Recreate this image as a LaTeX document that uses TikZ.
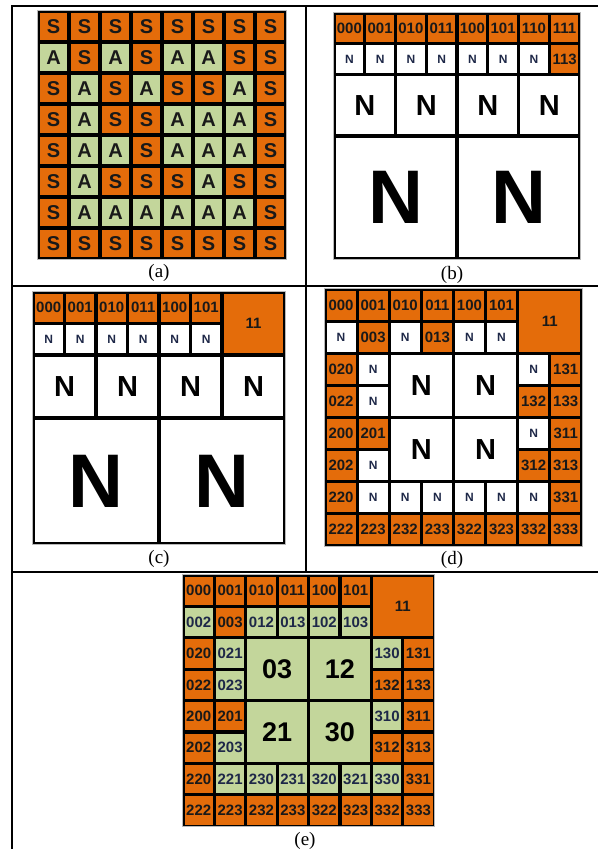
\documentclass[tikz,border=0pt]{standalone}
\usepackage{fontspec}
\setmainfont{Liberation Serif}
\newfontfamily\cellfont{Liberation Sans}
\definecolor{cellorange}{RGB}{228,108,10}
\definecolor{cellgreen}{RGB}{195,214,155}
\definecolor{cellink}{RGB}{30,40,72}

\tikzset{
  rule/.style={line width=2pt,black},
  frame/.style={draw=gray!55,line width=1.8pt},
  cell/.style={draw=black,line width=1.6pt,inner sep=0pt,text=black!90},
  letter/.style={font=\cellfont\bfseries\fontsize{20}{20}\selectfont},
  lbl/.style={font=\cellfont\bfseries\fontsize{15}{15}\selectfont},
  nsm/.style={font=\cellfont\bfseries\fontsize{12}{12}\selectfont},
  nmd/.style={font=\cellfont\bfseries\fontsize{29}{29}\selectfont,text=black},
  nbg/.style={font=\cellfont\bfseries\fontsize{76}{76}\selectfont,text=black},
  quad/.style={font=\cellfont\bfseries\fontsize{27}{27}\selectfont,text=black},
  S/.style={fill=cellorange,letter},
  A/.style={fill=cellgreen,letter},
  slab/.style={fill=cellorange,lbl},
  alab/.style={fill=cellgreen,lbl,text=cellink},
  nlab/.style={fill=white,nsm,text=cellink},
  caption/.style={inner sep=0pt,font=\fontsize{19}{19}\selectfont}
}

% one square of the grid: name, column, row, span, style, text
\newcommand{\cell}[6]{%
  \node[cell,#5,minimum size=#4*\cellsz pt-1.6pt] (#1)
    at ({#2-1+#4/2},{#3-1+#4/2}) {#6};}

\begin{document}
\begin{tikzpicture}[x=1pt,y=-1pt]
  \useasboundingbox (0,0) rectangle (598,849);

  % table rules
  \draw[rule] (12,849) -- (12,6) -- (598,6);
  \draw[rule] (12,286) -- (598,286);
  \draw[rule] (12,572) -- (598,572);
  \draw[rule] (306,6) -- (306,572);

  % (a)
  \def\cellsz{31}
  \begin{scope}[shift={(38,11)},x=\cellsz pt,y=-\cellsz pt]
    \draw[frame] (0,0) rectangle (8,8);
    \foreach \row [count=\r] in {{S,S,S,S,S,S,S,S},{A,S,A,S,A,A,S,S},
        {S,A,S,A,S,S,A,S},{S,A,S,S,A,A,A,S},{S,A,A,S,A,A,A,S},
        {S,A,S,S,S,A,S,S},{S,A,A,A,A,A,A,S},{S,S,S,S,S,S,S,S}}
      \foreach \t [count=\c] in \row
        \cell{a-\c-\r}{\c}{\r}{1}{\t}{\t};
  \end{scope}
  \node[caption] (cap-a) at (159,273) {(a)};

  % (b)
  \def\cellsz{30.75}
  \begin{scope}[shift={(334,13)},x=\cellsz pt,y=-\cellsz pt]
    \draw[frame] (0,0) rectangle (8,8);
    \foreach \t [count=\c] in {000,001,010,011,100,101,110,111}
      \cell{b-\c-1}{\c}{1}{1}{slab}{\t};
    \foreach \c in {1,...,7}
      \cell{b-\c-2}{\c}{2}{1}{nlab}{N};
    \cell{b-8-2}{8}{2}{1}{slab}{113};
    \foreach \c in {1,3,5,7}
      \cell{b-\c-3}{\c}{3}{2}{nlab,nmd}{N};
    \foreach \c in {1,5}
      \cell{b-\c-5}{\c}{5}{4}{nlab,nbg}{N};
  \end{scope}
  \node[caption] (cap-b) at (452,275) {(b)};

  % (c)
  \def\cellsz{31.5}
  \begin{scope}[shift={(33,292)},x=\cellsz pt,y=-\cellsz pt]
    \draw[frame] (0,0) rectangle (8,8);
    \foreach \t [count=\c] in {000,001,010,011,100,101}
      \cell{c-\c-1}{\c}{1}{1}{slab}{\t};
    \cell{c-7-1}{7}{1}{2}{slab}{11};
    \foreach \c in {1,...,6}
      \cell{c-\c-2}{\c}{2}{1}{nlab}{N};
    \foreach \c in {1,3,5,7}
      \cell{c-\c-3}{\c}{3}{2}{nlab,nmd}{N};
    \foreach \c in {1,5}
      \cell{c-\c-5}{\c}{5}{4}{nlab,nbg}{N};
  \end{scope}
  \node[caption] (cap-c) at (159,559) {(c)};

  % (d)
  \def\cellsz{32.1}
  \begin{scope}[shift={(325,289)},x=\cellsz pt,y=-\cellsz pt]
    \draw[frame] (0,0) rectangle (8,8);
    \foreach \t [count=\c] in {000,001,010,011,100,101}
      \cell{d-\c-1}{\c}{1}{1}{slab}{\t};
    \cell{d-7-1}{7}{1}{2}{slab}{11};
    \foreach \c/\r/\k/\t in {1/2/nlab/N,2/2/slab/003,3/2/nlab/N,4/2/slab/013,
        5/2/nlab/N,6/2/nlab/N,
        1/3/slab/020,2/3/nlab/N,7/3/nlab/N,8/3/slab/131,
        1/4/slab/022,2/4/nlab/N,7/4/slab/132,8/4/slab/133,
        1/5/slab/200,2/5/slab/201,7/5/nlab/N,8/5/slab/311,
        1/6/slab/202,2/6/nlab/N,7/6/slab/312,8/6/slab/313,
        1/7/slab/220,8/7/slab/331}
      \cell{d-\c-\r}{\c}{\r}{1}{\k}{\t};
    \foreach \c in {2,...,7}
      \cell{d-\c-7}{\c}{7}{1}{nlab}{N};
    \foreach \t [count=\c] in {222,223,232,233,322,323,332,333}
      \cell{d-\c-8}{\c}{8}{1}{slab}{\t};
    \foreach \c/\r in {3/3,5/3,3/5,5/5}
      \cell{d-\c-\r}{\c}{\r}{2}{nlab,nmd}{N};
  \end{scope}
  \node[caption] (cap-d) at (452,560) {(d)};

  % (e)
  \def\cellsz{31.4}
  \begin{scope}[shift={(183,575)},x=\cellsz pt,y=-\cellsz pt]
    \draw[frame] (0,0) rectangle (8,8);
    \foreach \t [count=\c] in {000,001,010,011,100,101}
      \cell{e-\c-1}{\c}{1}{1}{slab}{\t};
    \cell{e-7-1}{7}{1}{2}{slab}{11};
    \foreach \c/\r/\k/\t in {1/2/alab/002,2/2/slab/003,3/2/alab/012,4/2/alab/013,
        5/2/alab/102,6/2/alab/103,
        1/3/slab/020,2/3/alab/021,7/3/alab/130,8/3/slab/131,
        1/4/slab/022,2/4/alab/023,7/4/slab/132,8/4/slab/133,
        1/5/slab/200,2/5/slab/201,7/5/alab/310,8/5/slab/311,
        1/6/slab/202,2/6/alab/203,7/6/slab/312,8/6/slab/313,
        1/7/slab/220,2/7/alab/221,3/7/alab/230,4/7/alab/231,
        5/7/alab/320,6/7/alab/321,7/7/alab/330,8/7/slab/331}
      \cell{e-\c-\r}{\c}{\r}{1}{\k}{\t};
    \foreach \t [count=\c] in {222,223,232,233,322,323,332,333}
      \cell{e-\c-8}{\c}{8}{1}{slab}{\t};
    \foreach \c/\r/\t in {3/3/03,5/3/12,3/5/21,5/5/30}
      \cell{e-\c-\r}{\c}{\r}{2}{alab,quad}{\t};
  \end{scope}
  \node[caption] (cap-e) at (305,841) {(e)};
\end{tikzpicture}
\end{document}
